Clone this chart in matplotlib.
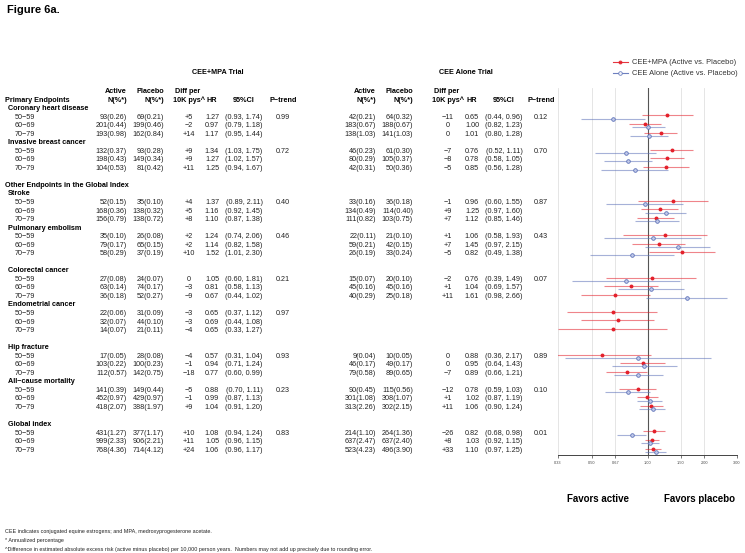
import matplotlib
matplotlib.use("Agg")
import matplotlib.pyplot as plt
from matplotlib.lines import Line2D

plt.rcParams['font.family'] = ['Liberation Sans', 'DejaVu Sans']

# ---- data ----
ages = ['50\u221259', '60\u221269', '70\u221279']
endpoints = ['Coronary heart disease', 'Invasive breast cancer', 'Stroke', 'Pulmonary embolism',
             'Colorectal cancer', 'Endometrial cancer', 'Hip fracture',
             'All\u2212cause mortality', 'Global index']

mpa_active = [['93(0.26)', '201(0.44)', '193(0.98)'], ['132(0.37)', '198(0.43)', '104(0.53)'],
              ['52(0.15)', '168(0.36)', '156(0.79)'], ['35(0.10)', '79(0.17)', '58(0.29)'],
              ['27(0.08)', '63(0.14)', '36(0.18)'], ['22(0.06)', '32(0.07)', '14(0.07)'],
              ['17(0.05)', '103(0.22)', '112(0.57)'], ['141(0.39)', '452(0.97)', '418(2.07)'],
              ['431(1.27)', '999(2.33)', '768(4.36)']]
mpa_placebo = [['69(0.21)', '199(0.46)', '162(0.84)'], ['93(0.28)', '149(0.34)', '81(0.42)'],
               ['35(0.10)', '138(0.32)', '138(0.72)'], ['26(0.08)', '65(0.15)', '37(0.19)'],
               ['24(0.07)', '74(0.17)', '52(0.27)'], ['31(0.09)', '44(0.10)', '21(0.11)'],
               ['28(0.08)', '100(0.23)', '142(0.75)'], ['149(0.44)', '429(0.97)', '388(1.97)'],
               ['377(1.17)', '906(2.21)', '714(4.12)']]
mpa_diff = [['+5', '\u22122', '+14'], ['+9', '+9', '+11'], ['+4', '+5', '+8'], ['+2', '+2', '+10'],
            ['0', '\u22123', '\u22129'], ['\u22123', '\u22123', '\u22124'], ['\u22124', '\u22121', '\u221218'],
            ['\u22125', '\u22121', '+9'], ['+10', '+11', '+24']]
mpa_hr = [[1.27, 0.97, 1.17], [1.34, 1.27, 1.25], [1.37, 1.16, 1.10], [1.24, 1.14, 1.52],
          [1.05, 0.81, 0.67], [0.65, 0.69, 0.65], [0.57, 0.94, 0.77], [0.88, 0.99, 1.04],
          [1.08, 1.05, 1.06]]
mpa_lo = [[0.93, 0.79, 0.95], [1.03, 1.02, 0.94], [0.89, 0.92, 0.87], [0.74, 0.82, 1.01],
          [0.60, 0.58, 0.44], [0.37, 0.44, 0.33], [0.31, 0.71, 0.60], [0.70, 0.87, 0.91],
          [0.94, 0.96, 0.96]]
mpa_hi = [[1.74, 1.18, 1.44], [1.75, 1.57, 1.67], [2.11, 1.45, 1.38], [2.06, 1.58, 2.30],
          [1.81, 1.13, 1.02], [1.12, 1.08, 1.27], [1.04, 1.24, 0.99], [1.11, 1.13, 1.20],
          [1.24, 1.15, 1.17]]
mpa_p = ['0.99', '0.72', '0.40', '0.46', '0.21', '0.97', '0.93', '0.23', '0.83']

alone_active = [['42(0.21)', '183(0.67)', '138(1.03)'], ['46(0.23)', '80(0.29)', '42(0.31)'],
                ['33(0.16)', '134(0.49)', '111(0.82)'], ['22(0.11)', '59(0.21)', '26(0.19)'],
                ['15(0.07)', '45(0.16)', '40(0.29)'], None,
                ['9(0.04)', '46(0.17)', '79(0.58)'], ['90(0.45)', '301(1.08)', '313(2.26)'],
                ['214(1.10)', '637(2.47)', '523(4.23)']]
alone_placebo = [['64(0.32)', '188(0.67)', '141(1.03)'], ['61(0.30)', '105(0.37)', '50(0.36)'],
                 ['36(0.18)', '114(0.40)', '103(0.75)'], ['21(0.10)', '42(0.15)', '33(0.24)'],
                 ['20(0.10)', '45(0.16)', '25(0.18)'], None,
                 ['10(0.05)', '49(0.17)', '89(0.65)'], ['115(0.56)', '308(1.07)', '302(2.15)'],
                 ['264(1.36)', '637(2.40)', '496(3.90)']]
alone_diff = [['\u221211', '0', '0'], ['\u22127', '\u22128', '\u22125'], ['\u22121', '+9', '+7'],
              ['+1', '+7', '\u22125'], ['\u22122', '+1', '+11'], None, ['0', '0', '\u22127'],
              ['\u221212', '+1', '+11'], ['\u221226', '+8', '+33']]
alone_hr = [[0.65, 1.00, 1.01], [0.76, 0.78, 0.85], [0.96, 1.25, 1.12], [1.06, 1.45, 0.82],
            [0.76, 1.04, 1.61], None, [0.88, 0.95, 0.89], [0.78, 1.02, 1.06], [0.82, 1.03, 1.10]]
alone_lo = [[0.44, 0.82, 0.80], [0.52, 0.58, 0.56], [0.60, 0.97, 0.85], [0.58, 0.97, 0.49],
            [0.39, 0.69, 0.98], None, [0.36, 0.64, 0.66], [0.59, 0.87, 0.90], [0.68, 0.92, 0.97]]
alone_hi = [[0.96, 1.23, 1.28], [1.11, 1.05, 1.28], [1.55, 1.60, 1.46], [1.93, 2.15, 1.38],
            [1.49, 1.57, 2.66], None, [2.17, 1.43, 1.21], [1.03, 1.19, 1.24], [0.98, 1.15, 1.25]]
alone_p = ['0.12', '0.70', '0.87', '0.43', '0.07', '', '0.89', '0.10', '0.01']

# section headers placed before these endpoint indices, blank row before index
section_before = {0: 'Primary Endpoints', 2: 'Other Endpoints in the Global Index'}
blank_before = {2, 4, 6, 8}

xticks = [0.33, 0.50, 0.67, 1.00, 1.50, 2.00, 3.00]

# ---- layout (pixel coordinates) ----
W, H = 745, 553
Y0, DY = 100, 8.54
FS = 5.2
RED = '#e3202b'
BLUE = '#5d72b8'

# build row list
rows = []  # (kind, endpoint index, age index)
for k in range(len(endpoints)):
    if k in blank_before:
        rows.append(('blank', None, None))
    if k in section_before:
        rows.append(('section', k, None))
    rows.append(('endpoint', k, None))
    for a in range(3):
        rows.append(('age', k, a))


def ypix(i):
    return Y0 + DY * i


fig = plt.figure(figsize=(W / 100, H / 100), dpi=100)
ax = fig.add_axes([0, 0, 1, 1])
ax.set_xlim(0, W)
ax.set_ylim(H, 0)
ax.axis('off')

ax.text(7, 10, 'Figure 6a.', fontsize=8, fontweight='bold', va='center')

# column x positions
col_mpa = dict(act=127, plc=164, diff=189, hr=212, ci=244, p=283)
col_alone = dict(act=376, plc=413, diff=448, hr=472, ci=504, p=541)

for title, cx, cols in [('CEE+MPA Trial', 218, col_mpa), ('CEE Alone Trial', 466, col_alone)]:
    ax.text(cx, 72, title, fontsize=FS, fontweight='bold', ha='center', va='center')
    yh1, yh2 = ypix(-1), ypix(0)
    ax.text(cols['act'], yh1, 'Active', fontsize=FS, fontweight='bold', ha='right', va='center')
    ax.text(cols['act'], yh2, 'N(%*)', fontsize=FS, fontweight='bold', ha='right', va='center')
    ax.text(cols['plc'], yh1, 'Placebo', fontsize=FS, fontweight='bold', ha='right', va='center')
    ax.text(cols['plc'], yh2, 'N(%*)', fontsize=FS, fontweight='bold', ha='right', va='center')
    ax.text(cols['diff'] - 1, yh1, 'Diff per', fontsize=FS, fontweight='bold', ha='center', va='center')
    ax.text(cols['diff'], yh2, '10K pys^', fontsize=FS, fontweight='bold', ha='center', va='center')
    ax.text(cols['hr'], yh2, 'HR', fontsize=FS, fontweight='bold', ha='center', va='center')
    ax.text(cols['ci'], yh2, '95%CI', fontsize=FS, fontweight='bold', ha='center', va='center')
    ax.text(cols['p'], yh2, 'P\u2212trend', fontsize=FS, fontweight='bold', ha='center', va='center')

for i, (kind, k, a) in enumerate(rows):
    y = ypix(i)
    if kind == 'section':
        ax.text(5, y, section_before[k], fontsize=FS, fontweight='bold', va='center')
    elif kind == 'endpoint':
        ax.text(8, y, endpoints[k], fontsize=FS, fontweight='bold', va='center')
    elif kind == 'age':
        ax.text(15, y, ages[a], fontsize=FS, va='center', color='#222222')
        for cols, act, plc, dif, hr, lo, hi, pv in [
                (col_mpa, mpa_active, mpa_placebo, mpa_diff, mpa_hr, mpa_lo, mpa_hi, mpa_p),
                (col_alone, alone_active, alone_placebo, alone_diff, alone_hr, alone_lo, alone_hi, alone_p)]:
            if act[k] is None:
                continue
            ax.text(cols['act'], y, act[k][a], fontsize=FS, ha='right', va='center', color='#222222')
            ax.text(cols['plc'], y, plc[k][a], fontsize=FS, ha='right', va='center', color='#222222')
            ax.text(cols['diff'], y, dif[k][a], fontsize=FS, ha='center', va='center', color='#222222')
            ax.text(cols['hr'], y, '%.2f' % hr[k][a], fontsize=FS, ha='center', va='center', color='#222222')
            ax.text(cols['ci'], y, '(%.2f, %.2f)' % (lo[k][a], hi[k][a]), fontsize=FS,
                    ha='center', va='center', color='#222222')
            if a == 0:
                ax.text(cols['p'], y, pv[k], fontsize=FS, ha='center', va='center', color='#222222')

# ---- forest panel ----
fx0, fx1, fy0, fy1 = 558, 737, 88, 455
fax = fig.add_axes([fx0 / W, 1 - fy1 / H, (fx1 - fx0) / W, (fy1 - fy0) / H])
fax.set_xscale('log')
fax.set_xlim(0.33, 3.0)
fax.set_ylim(fy1, fy0)
for s in ['top', 'right', 'left']:
    fax.spines[s].set_visible(False)
fax.spines['bottom'].set_color('#444444')
fax.spines['bottom'].set_linewidth(0.7)
fax.spines['bottom'].set_bounds(0.33, 3.0)
fax.set_yticks([])
fax.set_xticks(xticks)
fax.set_xticklabels(['%.2f' % t for t in xticks])
fax.xaxis.set_minor_locator(plt.NullLocator())
fax.tick_params(axis='x', labelsize=2.8, length=2, width=0.5, colors='#444444', pad=2)
for t in xticks:
    if t == 1.0:
        fax.axvline(t, color='#555555', lw=0.8, zorder=1)
    else:
        fax.axvline(t, color='#e0e0e0', lw=0.6, zorder=0)

for i, (kind, k, a) in enumerate(rows):
    if kind != 'age':
        continue
    y = ypix(i)
    fax.plot([mpa_lo[k][a], mpa_hi[k][a]], [y - 1.6, y - 1.6], color=RED, alpha=0.55, lw=0.8,
             zorder=2, solid_capstyle='butt')
    fax.plot(mpa_hr[k][a], y - 1.6, 'o', color=RED, ms=2.8, mew=0, zorder=3)
    if alone_hr[k] is not None:
        fax.plot([alone_lo[k][a], alone_hi[k][a]], [y + 1.6, y + 1.6], color=BLUE, alpha=0.55, lw=0.8,
                 zorder=2, solid_capstyle='butt')
        fax.plot(alone_hr[k][a], y + 1.6, 'o', mfc='#c3cbea', mec=BLUE, ms=2.6, mew=0.6, zorder=3)

handles = [Line2D([], [], color=RED, lw=0.8, marker='o', ms=2.8, mew=0, alpha=0.9),
           Line2D([], [], color=BLUE, lw=0.8, marker='o', ms=2.6, mfc='white', mew=0.6, alpha=0.9)]
fig.legend(handles, ['CEE+MPA (Active vs. Placebo)', 'CEE Alone (Active vs. Placebo)'],
           loc='center left', bbox_to_anchor=(606 / W, 1 - 68 / H), frameon=False,
           fontsize=5.4, handlelength=2.0, handletextpad=0.6, labelspacing=0.5,
           labelcolor='#333333')

ax.text(598, 499, 'Favors active', fontsize=7, fontweight='bold', ha='center', va='center')
ax.text(700, 499, 'Favors placebo', fontsize=7, fontweight='bold', ha='center', va='center')

foot = ['CEE indicates conjugated equine estrogens; and MPA, medroxyprogesterone acetate.',
        '* Annualized percentage',
        '^Difference in estimated absolute excess risk (active minus placebo) per 10,000 person years.  '
        'Numbers may not add up precisely due to rounding error.']
for j, s in enumerate(foot):
    ax.text(5, 532 + 8.5 * j, s, fontsize=3.9, va='center', color='#222222')

fig.savefig('out.png', dpi=100)
